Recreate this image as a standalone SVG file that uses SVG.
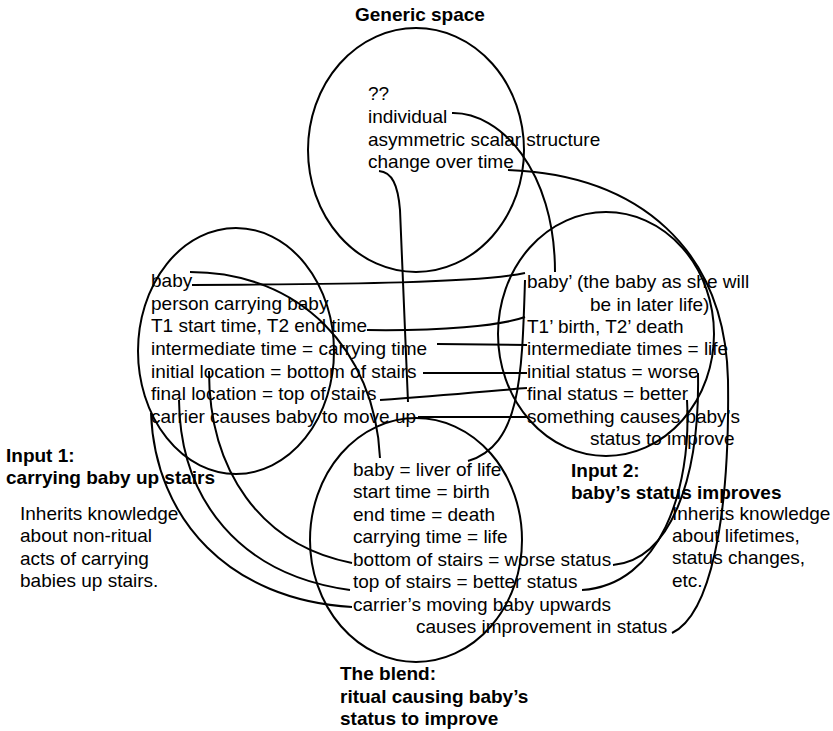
<svg xmlns="http://www.w3.org/2000/svg" width="833" height="731" viewBox="0 0 833 731">
<style>
text{font-family:"Liberation Sans",Arial,sans-serif;font-size:19px;fill:#000}
.b{font-weight:bold}
.e{fill:none;stroke:#000;stroke-width:2}
.c{fill:none;stroke:#000;stroke-width:2}
</style>
<rect width="833" height="731" fill="#fff"/>
<g id="generic">
<ellipse class="e" cx="416" cy="150" rx="108" ry="122"/>
<text class="b" x="355" y="21">Generic space</text>
<text x="368" y="100">??</text>
<text x="368" y="123">individual</text>
<text x="368" y="146">asymmetric scalar structure</text>
<text x="368" y="168">change over time</text>
</g>
<g id="input1">
<ellipse class="e" cx="236" cy="351" rx="98" ry="123"/>
<text x="151" y="287">baby</text>
<text x="151" y="310">person carrying baby</text>
<text x="151" y="332">T1 start time, T2 end time</text>
<text x="151" y="355">intermediate time = carrying time</text>
<text x="151" y="378">initial location = bottom of stairs</text>
<text x="151" y="400">final location = top of stairs</text>
<text x="151" y="423">carrier causes baby to move up</text>
<text class="b" x="6" y="462">Input 1:</text>
<text class="b" x="6" y="484">carrying baby up stairs</text>
<text x="20" y="520">Inherits knowledge</text>
<text x="20" y="542">about non-ritual</text>
<text x="20" y="565">acts of carrying</text>
<text x="20" y="587">babies up stairs.</text>
</g>
<g id="input2">
<ellipse class="e" cx="606" cy="334" rx="108" ry="122"/>
<text x="527" y="288">baby’ (the baby as she will</text>
<text x="590" y="311">be in later life)</text>
<text x="527" y="333">T1’ birth, T2’ death</text>
<text x="527" y="355">intermediate times = life</text>
<text x="527" y="378">initial status = worse</text>
<text x="527" y="400">final status = better</text>
<text x="527" y="423">something causes baby’s</text>
<text x="590" y="445">status to improve</text>
<text class="b" x="571" y="477">Input 2:</text>
<text class="b" x="571" y="499">baby’s status improves</text>
<text x="672" y="520">Inherits knowledge</text>
<text x="672" y="542">about lifetimes,</text>
<text x="672" y="564">status changes,</text>
<text x="672" y="587">etc.</text>
</g>
<g id="blend">
<ellipse class="e" cx="416" cy="540" rx="106" ry="122"/>
<text x="353" y="476">baby = liver of life</text>
<text x="353" y="498">start time = birth</text>
<text x="353" y="521">end time = death</text>
<text x="353" y="543">carrying time = life</text>
<text x="353" y="566">bottom of stairs = worse status</text>
<text x="353" y="588">top of stairs = better status</text>
<text x="353" y="611">carrier’s moving baby upwards</text>
<text x="416" y="633">causes improvement in status</text>
<text class="b" x="340" y="680">The blend:</text>
<text class="b" x="340" y="703">ritual causing baby’s</text>
<text class="b" x="340" y="725">status to improve</text>
</g>
<g id="connectors">
<path class="c" d="M452,113 C500,112 555,170 555,272"/>
<path class="c" d="M379,171 C392,172 398,185 400,210 L408,402"/>
<path class="c" d="M508,170 C640,175 725,250 728,380 C730,520 710,615 672,633"/>
<path class="c" d="M192,285 C350,284 480,283 525,273"/>
<path class="c" d="M190,272 C300,272 375,350 380,458"/>
<path class="c" d="M367,330 C440,331 500,326 525,317"/>
<path class="c" d="M437,344 L527,345"/>
<path class="c" d="M423,373 L527,373"/>
<path class="c" d="M380,400 C450,395 500,390 527,388"/>
<path class="c" d="M418,417 L527,417"/>
<path class="c" d="M525,280 C522,380 520,445 468,461"/>
<path class="c" d="M209,371 C209,470 260,545 352,563"/>
<path class="c" d="M179,400 C180,500 240,575 350,590"/>
<path class="c" d="M151,413 C155,520 230,600 352,607"/>
<path class="c" d="M698,373 C700,480 670,560 613,565"/>
<path class="c" d="M687,400 C692,490 660,585 582,590"/>
</g>
</svg>
